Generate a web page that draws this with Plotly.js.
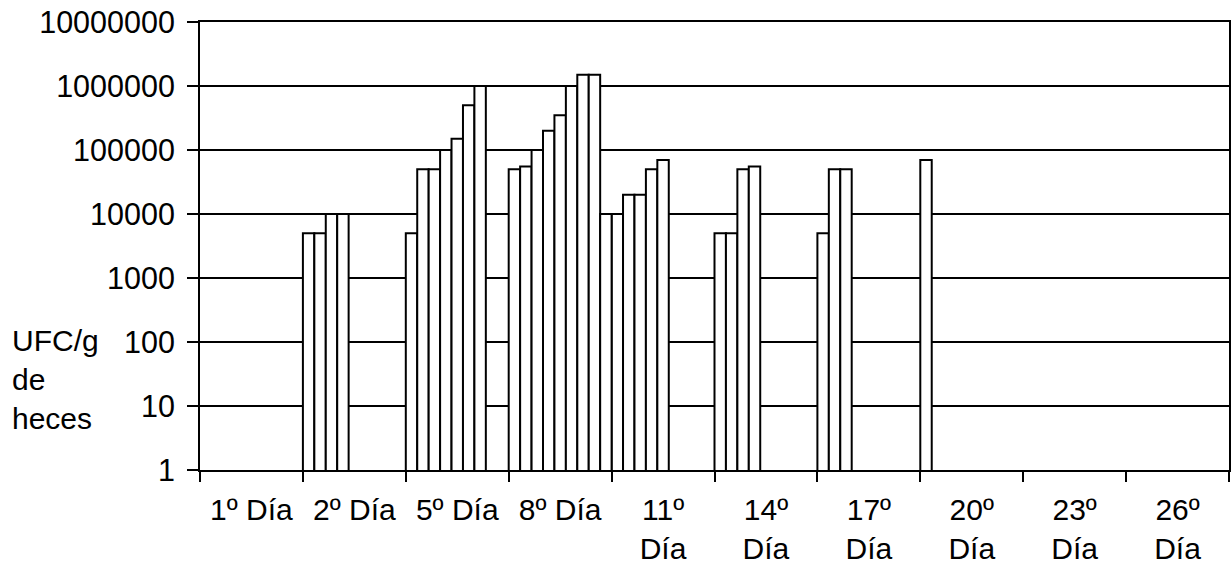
<!DOCTYPE html>
<html>
<head>
<meta charset="utf-8">
<script src="https://cdn.plot.ly/plotly-3.0.1.min.js"></script>
<style>html,body{margin:0;padding:0;background:#fff;}#chart{width:1232px;height:574px;}</style>
</head>
<body>
<div id="chart"></div>
<script>
// Categories (days)
const categories = ["1º Día", "2º Día", "5º Día", "8º Día", "11º<br>Día", "14º<br>Día", "17º<br>Día", "20º<br>Día", "23º<br>Día", "26º<br>Día"];

// Nine series (one slot each inside a day group), UFC/g de heces
const serie1 = [null, 5000, 5000, 50000, 10000, 5000, 5000, 70000, null, null];
const serie2 = [null, 5000, 50000, 55000, 20000, 5000, 50000, null, null, null];
const serie3 = [null, 10000, 50000, 100000, 20000, 50000, 50000, null, null, null];
const serie4 = [null, 10000, 100000, 200000, 50000, 55000, null, null, null, null];
const serie5 = [null, null, 150000, 350000, 70000, null, null, null, null, null];
const serie6 = [null, null, 500000, 1000000, null, null, null, null, null, null];
const serie7 = [null, null, 1000000, 1500000, null, null, null, null, null, null];
const serie8 = [null, null, null, 1500000, null, null, null, null, null, null];
const serie9 = [null, null, null, 10000, null, null, null, null, null, null];

const yTickVals = [1, 10, 100, 1000, 10000, 100000, 1000000, 10000000];
const yTickText = ["1", "10", "100", "1000", "10000", "100000", "1000000", "10000000"];
const yTitle = "UFC/g<br>de<br>heces";

const series = [serie1, serie2, serie3, serie4, serie5, serie6, serie7, serie8, serie9];
const FONT = "Liberation Sans, Arial, sans-serif";

const traces = series.map((s, i) => ({
  type: "bar",
  x: categories,
  y: s,
  name: "Serie " + (i + 1),
  marker: { color: "#ffffff", line: { color: "#000000", width: 2 } },
  hoverinfo: "x+y"
}));

const layout = {
  width: 1232,
  height: 574,
  margin: { l: 200, r: 3, t: 22, b: 104, pad: 0 },
  paper_bgcolor: "#ffffff",
  plot_bgcolor: "#ffffff",
  showlegend: false,
  barmode: "group",
  bargap: 0,
  bargroupgap: 0,
  font: { family: FONT, size: 30, color: "#000000" },
  xaxis: {
    type: "category",
    tickson: "boundaries",
    ticks: "outside",
    ticklen: 10,
    tickwidth: 2,
    tickcolor: "#000000",
    showgrid: false,
    showline: true,
    linewidth: 2,
    linecolor: "#000000",
    mirror: true,
    ticklabelstandoff: 12,
    tickfont: { family: FONT, size: 30, color: "#000000" },
    tickangle: 0
  },
  yaxis: {
    type: "log",
    range: [0, 7],
    tickmode: "array",
    tickvals: yTickVals,
    ticktext: yTickText,
    ticks: "outside",
    ticklen: 11,
    tickwidth: 2,
    tickcolor: "#000000",
    showgrid: true,
    gridcolor: "#000000",
    gridwidth: 2,
    showline: true,
    linewidth: 2,
    linecolor: "#000000",
    mirror: true,
    zeroline: false,
    ticklabelstandoff: 6,
    tickfont: { family: FONT, size: 30.5, color: "#000000" }
  },
  annotations: [{
    text: yTitle,
    xref: "paper", yref: "y",
    x: -190 / 1029, xanchor: "left",
    y: Math.log10(100), yanchor: "top",
    yshift: 20,
    align: "left",
    showarrow: false,
    font: { family: FONT, size: 30, color: "#000000" }
  }]
};

Plotly.newPlot("chart", traces, layout, { displayModeBar: false, staticPlot: true });
</script>
</body>
</html>
